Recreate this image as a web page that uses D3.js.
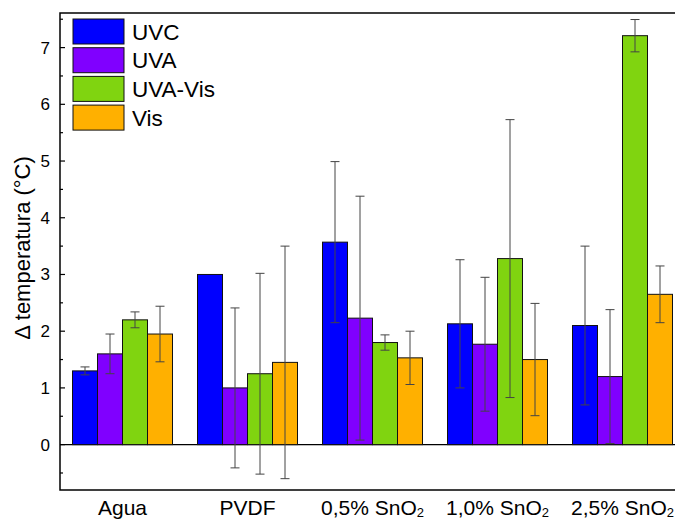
<!DOCTYPE html>
<html>
<head>
<meta charset="utf-8">
<script src="https://cdn.jsdelivr.net/npm/d3@7"></script>
<style>
  body { margin: 0; background: #fff; }
  svg { font-family: "Liberation Sans", Arial, sans-serif; }
</style>
</head>
<body>
<div id="graph"></div>
<script>
var categories = ["Agua", "PVDF", "0,5% SnO2", "1,0% SnO2", "2,5% SnO2"];
var series = ["UVC", "UVA", "UVA-Vis", "Vis"];
var colors = ["#0000ff", "#8000ff", "#80d410", "#ffb000"];

// mean values per series (one per category)
var uvc = [1.30, 3.00, 3.57, 2.13, 2.10];
var uva = [1.60, 1.00, 2.23, 1.77, 1.20];
var uvaVis = [2.20, 1.25, 1.80, 3.28, 7.21];
var vis = [1.95, 1.45, 1.53, 1.50, 2.65];

// error bar half-widths
var uvcErr = [0.07, 0, 1.42, 1.13, 1.40];
var uvaErr = [0.35, 1.41, 2.15, 1.18, 1.18];
var uvaVisErr = [0.14, 1.77, 0.135, 2.45, 0.285];
var visErr = [0.49, 2.05, 0.47, 0.99, 0.50];

var yTicks = [0, 1, 2, 3, 4, 5, 6, 7];

var values = [uvc, uva, uvaVis, vis];
var errors = [uvcErr, uvaErr, uvaVisErr, visErr];

var width = 675,
    height = 521,
    plotLeft = 60,
    plotTop = 13,
    plotBottom = 490,
    plotRight = 685;

var svg = d3.select('#graph')
    .append('svg')
    .attr('width', width)
    .attr('height', height);

var x = d3.scaleBand()
    .domain(categories)
    .range([plotLeft, plotRight])
    .paddingInner(0.2)
    .paddingOuter(0.1);

var xs = d3.scaleBand()
    .domain(series)
    .range([0, x.bandwidth()]);

var y = d3.scaleLinear()
    .domain([-0.8, 7.61])
    .range([plotBottom, plotTop]);

// flatten data
var data = [];
categories.forEach(function(c, ci) {
    series.forEach(function(s, si) {
        data.push({ cat: c, ser: s, si: si, value: values[si][ci], err: errors[si][ci] });
    });
});

// zero line
svg.append('line')
    .attr('x1', plotLeft).attr('x2', width)
    .attr('y1', y(0)).attr('y2', y(0))
    .attr('stroke', '#000').attr('stroke-width', 1.2);

// bars
svg.append('g').selectAll('rect')
    .data(data)
    .enter()
    .append('rect')
    .attr('x', function(d) { return x(d.cat) + xs(d.ser); })
    .attr('y', function(d) { return y(d.value); })
    .attr('width', xs.bandwidth())
    .attr('height', function(d) { return y(0) - y(d.value); })
    .attr('fill', function(d) { return colors[d.si]; })
    .attr('stroke', '#111')
    .attr('stroke-width', 1);

// error bars
var eb = svg.append('g')
    .attr('stroke', '#444')
    .attr('stroke-width', 1)
    .selectAll('g')
    .data(data.filter(function(d) { return d.err > 0; }))
    .enter()
    .append('g');

eb.append('line')
    .attr('x1', function(d) { return x(d.cat) + xs(d.ser) + xs.bandwidth() / 2; })
    .attr('x2', function(d) { return x(d.cat) + xs(d.ser) + xs.bandwidth() / 2; })
    .attr('y1', function(d) { return y(d.value + d.err); })
    .attr('y2', function(d) { return y(d.value - d.err); });

[1, -1].forEach(function(sign) {
    eb.append('line')
        .attr('x1', function(d) { return x(d.cat) + xs(d.ser) + xs.bandwidth() / 2 - 4.5; })
        .attr('x2', function(d) { return x(d.cat) + xs(d.ser) + xs.bandwidth() / 2 + 4.5; })
        .attr('y1', function(d) { return y(d.value + sign * d.err); })
        .attr('y2', function(d) { return y(d.value + sign * d.err); });
});

// frame
svg.append('path')
    .attr('d', 'M' + width + ',' + plotTop + 'H' + plotLeft + 'V' + plotBottom + 'H' + width)
    .attr('fill', 'none')
    .attr('stroke', '#000')
    .attr('stroke-width', 1.5);

// y ticks (inward)
var minor = d3.range(-0.5, 7.6, 1);
svg.append('g').selectAll('line.major')
    .data(yTicks)
    .enter()
    .append('line')
    .attr('x1', plotLeft).attr('x2', plotLeft + 5)
    .attr('y1', function(d) { return y(d); })
    .attr('y2', function(d) { return y(d); })
    .attr('stroke', '#000').attr('stroke-width', 1.2);

svg.append('g').selectAll('line.minor')
    .data(minor)
    .enter()
    .append('line')
    .attr('x1', plotLeft).attr('x2', plotLeft + 3)
    .attr('y1', function(d) { return y(d); })
    .attr('y2', function(d) { return y(d); })
    .attr('stroke', '#000').attr('stroke-width', 1.2);

svg.append('g').selectAll('text')
    .data(yTicks)
    .enter()
    .append('text')
    .attr('x', 50)
    .attr('y', function(d) { return y(d); })
    .attr('dy', '0.35em')
    .attr('text-anchor', 'end')
    .attr('font-size', 17)
    .text(function(d) { return d; });

// y title
svg.append('text')
    .attr('transform', 'translate(30,' + 248 + ') rotate(-90)')
    .attr('text-anchor', 'middle')
    .attr('font-size', 22)
    .text('\u0394 temperatura (\u00b0C)');

// x labels
var xl = svg.append('g').selectAll('text')
    .data(categories)
    .enter()
    .append('text')
    .attr('x', function(d) { return x(d) + x.bandwidth() / 2; })
    .attr('y', 515)
    .attr('text-anchor', 'middle')
    .attr('font-size', 21);

xl.each(function(d) {
    var t = d3.select(this);
    if (d.slice(-1) === '2') {
        t.append('tspan').text(d.slice(0, -1));
        t.append('tspan').attr('font-size', 13).attr('dy', 2).text('2');
    } else {
        t.text(d);
    }
});

// legend
var legend = svg.append('g').selectAll('g')
    .data(series)
    .enter()
    .append('g')
    .attr('transform', function(d, i) { return 'translate(73,' + (19 + i * 28.7) + ')'; });

legend.append('rect')
    .attr('width', 51)
    .attr('height', 25)
    .attr('fill', function(d, i) { return colors[i]; })
    .attr('stroke', '#111')
    .attr('stroke-width', 1);

legend.append('text')
    .attr('x', 59)
    .attr('y', 12.5)
    .attr('dy', '0.36em')
    .attr('font-size', 22.5)
    .text(function(d) { return d; });
</script>
</body>
</html>
